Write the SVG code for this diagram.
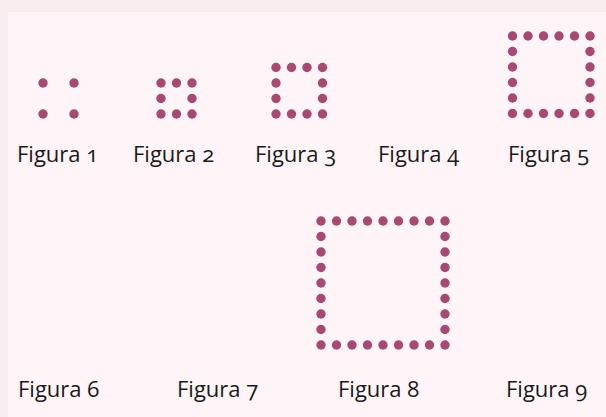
<svg xmlns="http://www.w3.org/2000/svg" width="606" height="417" viewBox="0 0 606 417">
<style>
.d{fill:#a64a72}
.t{font-family:"Open Sans","Noto Sans","Liberation Sans",sans-serif;font-size:22px;fill:#1a1a1a;font-feature-settings:"onum" 1;font-variant-numeric:oldstyle-nums}
</style>
<defs><circle id="c" r="4.7" class="d"/></defs>
<rect x="0" y="0" width="606" height="417" fill="#f8ecee"/>
<rect x="8" y="12" width="598" height="405" fill="#fff5f8"/>
<g id="fig1">
<use href="#c" x="43" y="83"/><use href="#c" x="74" y="83"/>
<use href="#c" x="43" y="114"/><use href="#c" x="74" y="114"/>
<text class="t" x="17" y="162">Figura 1</text>
</g>
<g id="fig2">
<use href="#c" x="161" y="83"/><use href="#c" x="176.5" y="83"/><use href="#c" x="192" y="83"/>
<use href="#c" x="161" y="98.5"/><use href="#c" x="192" y="98.5"/>
<use href="#c" x="161" y="114"/><use href="#c" x="176.5" y="114"/><use href="#c" x="192" y="114"/>
<text class="t" x="133" y="162">Figura 2</text>
</g>
<g id="fig3">
<use href="#c" x="276" y="67.5"/><use href="#c" x="291.5" y="67.5"/><use href="#c" x="307" y="67.5"/><use href="#c" x="322.5" y="67.5"/>
<use href="#c" x="276" y="83"/><use href="#c" x="322.5" y="83"/>
<use href="#c" x="276" y="98.5"/><use href="#c" x="322.5" y="98.5"/>
<use href="#c" x="276" y="114"/><use href="#c" x="291.5" y="114"/><use href="#c" x="307" y="114"/><use href="#c" x="322.5" y="114"/>
<text class="t" x="255" y="162">Figura 3</text>
</g>
<g id="fig4">
<text class="t" x="378" y="162">Figura 4</text>
</g>
<g id="fig5">
<use href="#c" x="512.5" y="36"/><use href="#c" x="528" y="36"/><use href="#c" x="543.5" y="36"/><use href="#c" x="559" y="36"/><use href="#c" x="574.5" y="36"/><use href="#c" x="590" y="36"/>
<use href="#c" x="512.5" y="51.5"/><use href="#c" x="590" y="51.5"/>
<use href="#c" x="512.5" y="67"/><use href="#c" x="590" y="67"/>
<use href="#c" x="512.5" y="82.5"/><use href="#c" x="590" y="82.5"/>
<use href="#c" x="512.5" y="98"/><use href="#c" x="590" y="98"/>
<use href="#c" x="512.5" y="113.5"/><use href="#c" x="528" y="113.5"/><use href="#c" x="543.5" y="113.5"/><use href="#c" x="559" y="113.5"/><use href="#c" x="574.5" y="113.5"/><use href="#c" x="590" y="113.5"/>
<text class="t" x="508" y="162">Figura 5</text>
</g>
<g id="fig6">
<text class="t" x="18" y="397">Figura 6</text>
</g>
<g id="fig7">
<text class="t" x="177" y="397">Figura 7</text>
</g>
<g id="fig8">
<use href="#c" x="321" y="221"/><use href="#c" x="336.5" y="221"/><use href="#c" x="352" y="221"/><use href="#c" x="367.5" y="221"/><use href="#c" x="383" y="221"/><use href="#c" x="398.5" y="221"/><use href="#c" x="414" y="221"/><use href="#c" x="429.5" y="221"/><use href="#c" x="445" y="221"/>
<use href="#c" x="321" y="236.5"/><use href="#c" x="445" y="236.5"/>
<use href="#c" x="321" y="252"/><use href="#c" x="445" y="252"/>
<use href="#c" x="321" y="267.5"/><use href="#c" x="445" y="267.5"/>
<use href="#c" x="321" y="283"/><use href="#c" x="445" y="283"/>
<use href="#c" x="321" y="298.5"/><use href="#c" x="445" y="298.5"/>
<use href="#c" x="321" y="314"/><use href="#c" x="445" y="314"/>
<use href="#c" x="321" y="329.5"/><use href="#c" x="445" y="329.5"/>
<use href="#c" x="321" y="345"/><use href="#c" x="336.5" y="345"/><use href="#c" x="352" y="345"/><use href="#c" x="367.5" y="345"/><use href="#c" x="383" y="345"/><use href="#c" x="398.5" y="345"/><use href="#c" x="414" y="345"/><use href="#c" x="429.5" y="345"/><use href="#c" x="445" y="345"/>
<text class="t" x="338" y="397">Figura 8</text>
</g>
<g id="fig9">
<text class="t" x="506" y="397">Figura 9</text>
</g>
</svg>
